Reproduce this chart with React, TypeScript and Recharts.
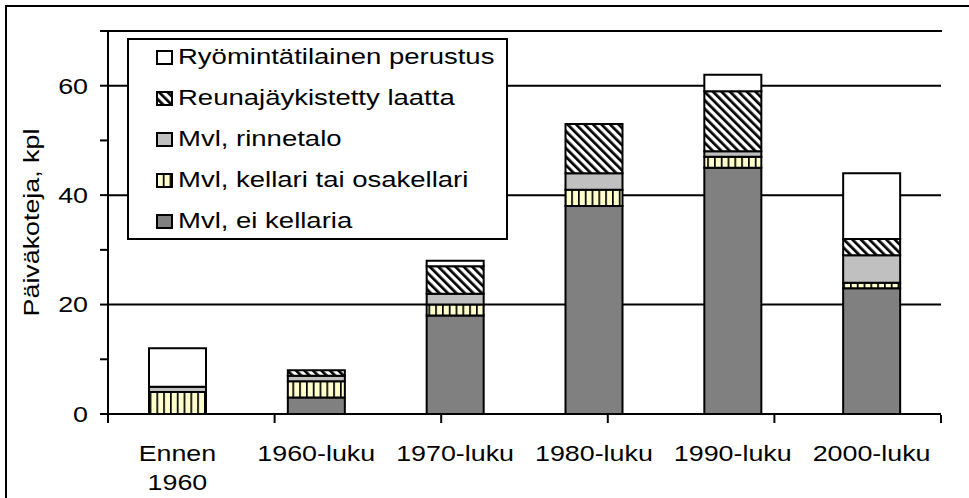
import React from 'react';
import { BarChart, Bar, XAxis, YAxis, CartesianGrid, Legend } from 'recharts';

// ---- data ----
const categories = ['Ennen\n1960', '1960-luku', '1970-luku', '1980-luku', '1990-luku', '2000-luku'];
const eiKellaria = [0, 3, 18, 38, 45, 23];
const kellari = [4, 3, 2, 3, 2, 1];
const rinnetalo = [1, 1, 2, 3, 1, 5];
const reunajaykistetty = [0, 1, 5, 9, 11, 3];
const ryomintatila = [7, 0, 1, 0, 3, 12];

const yTicks = [0, 10, 20, 30, 40, 50, 60, 70];
const yLabelTicks = [0, 20, 40, 60];
const yMax = 70;
const gridValues = [20, 40, 60];
const boundaryTicks = [0, 1, 2, 3, 4, 5, 6];
const yAxisTitle = 'Päiväkoteja, kpl';

const seriesDefs = [
  { key: 'ei', name: 'Mvl, ei kellaria', fill: '#808080' },
  { key: 'kellari', name: 'Mvl, kellari tai osakellari', fill: 'url(#pVert)' },
  { key: 'rinne', name: 'Mvl, rinnetalo', fill: '#C0C0C0' },
  { key: 'reuna', name: 'Reunajäykistetty laatta', fill: 'url(#pDiag)' },
  { key: 'ryom', name: 'Ryömintätilainen perustus', fill: '#FFFFFF' },
];

const data = categories.map((name, i) => ({
  name,
  ei: eiKellaria[i],
  kellari: kellari[i],
  rinne: rinnetalo[i],
  reuna: reunajaykistetty[i],
  ryom: ryomintatila[i],
}));

const FONT = "'Liberation Sans', Arial, sans-serif";
const FS = 22;
const SX = 1.22;

// layout of chart (positions only)
const CHART_W = 969;
const CHART_H = 498;
const Y_AXIS_W = 108;
const MARGIN = { top: 31, right: 28, bottom: 82, left: 0 };

const EmptyTick = () => <g />;

const XTick = (props: any) => {
  const { x, y, payload } = props;
  const lines = String(payload.value).split('\n');
  return (
    <g transform={`translate(${x},${y})`}>
      <text textAnchor="middle" fontFamily={FONT} fontSize={FS} fill="#000" transform={`scale(${SX},1)`}>
        {lines.map((l, i) => (
          <tspan key={i} x={0} y={47 + i * 29}>{l}</tspan>
        ))}
      </text>
    </g>
  );
};

const YTick = (props: any) => {
  const { x, y, payload } = props;
  if (!yLabelTicks.includes(payload.value)) return <g />;
  return (
    <g transform={`translate(${x},${y})`}>
      <text textAnchor="end" dy="0.36em" fontFamily={FONT} fontSize={FS} fill="#000" transform={`scale(${SX},1)`}>
        {payload.value}
      </text>
    </g>
  );
};

const YLabel = (props: any) => {
  const vb = props.viewBox || { x: 0, y: 31, width: 108, height: 383 };
  const cx = vb.x + 39;
  const cy = vb.y + vb.height / 2;
  return (
    <text
      transform={`translate(${cx},${cy}) rotate(-90) scale(${SX},1)`}
      textAnchor="middle"
      fontFamily={FONT}
      fontSize={FS}
      fill="#000"
    >
      {yAxisTitle}
    </text>
  );
};

const LegendContent = () => (
  <div
    style={{
      width: '100%',
      height: '100%',
      boxSizing: 'border-box',
      border: '2px solid #000',
      background: '#fff',
      display: 'flex',
      flexDirection: 'column',
      justifyContent: 'center',
      overflow: 'visible',
    }}
  >
    {[...seriesDefs].reverse().map((s) => (
      <div key={s.key} style={{ display: 'flex', alignItems: 'center', height: 41, flex: 'none' }}>
        <svg width={17} height={15} style={{ marginLeft: 27, flex: 'none' }}>
          <rect x={1} y={1} width={15} height={13} fill={s.fill} stroke="#000" strokeWidth={2} />
        </svg>
        <span
          style={{
            marginLeft: 5,
            fontSize: FS,
            fontFamily: FONT,
            display: 'inline-block',
            transform: `scaleX(${SX + 0.03})`,
            transformOrigin: 'left center',
            whiteSpace: 'nowrap',
            lineHeight: 1,
            color: '#000',
          }}
        >
          {s.name}
        </span>
      </div>
    ))}
  </div>
);

export default function App() {
  const plotLeft = MARGIN.left + Y_AXIS_W;
  const plotRight = CHART_W - MARGIN.right;
  return (
    <div style={{ position: 'absolute', left: 0, top: 0, width: CHART_W, height: CHART_H, background: '#fff', overflow: 'hidden' }}>
      <div
        style={{
          position: 'absolute',
          left: 5,
          top: 5,
          width: 1000,
          height: 600,
          borderTop: '2px solid #000',
          borderLeft: '2px solid #000',
        }}
      />
      <div style={{ position: 'absolute', left: 0, top: 0 }}>
        <BarChart width={CHART_W} height={CHART_H} data={data} margin={MARGIN}>
          <defs>
            <pattern id="pVert" patternUnits="userSpaceOnUse" width={6.8} height={10}>
              <rect x={0} y={0} width={6.8} height={10} fill="#FFFFCC" />
              <rect x={0} y={0} width={1.7} height={10} fill="#000" />
            </pattern>
            <pattern id="pDiag" patternUnits="userSpaceOnUse" width={6} height={6} patternTransform="rotate(-45)">
              <rect x={0} y={0} width={6} height={6} fill="#fff" />
              <rect x={0} y={0} width={2.7} height={6} fill="#000" />
            </pattern>
          </defs>
          <CartesianGrid
            horizontal
            vertical={false}
            horizontalValues={gridValues}
            stroke="#000"
            strokeWidth={2}
            strokeDasharray=""
          />
          <XAxis
            dataKey="name"
            interval={0}
            height={1}
            tickSize={0}
            tickMargin={0}
            tickLine={false}
            axisLine={{ stroke: '#000', strokeWidth: 2 }}
            tick={<XTick />}
          />
          <XAxis
            xAxisId="bnd"
            type="number"
            domain={[0, 6]}
            ticks={boundaryTicks}
            interval={0}
            allowDataOverflow
            tick={<EmptyTick />}
            tickSize={8}
            tickLine={{ stroke: '#000', strokeWidth: 2 }}
            axisLine={false}
            height={1}
            orientation="bottom"
          />
          <YAxis
            width={Y_AXIS_W}
            domain={[0, yMax]}
            ticks={yTicks}
            interval={0}
            tickSize={8}
            tickMargin={12}
            tickLine={{ stroke: '#000', strokeWidth: 2 }}
            axisLine={{ stroke: '#000', strokeWidth: 2 }}
            tick={<YTick />}
            label={{ content: <YLabel /> }}
          />
          <YAxis
            yAxisId="right"
            orientation="right"
            width={0}
            domain={[0, yMax]}
            tick={false}
            tickLine={false}
            axisLine={{ stroke: '#000', strokeWidth: 2 }}
          />
          <Legend
            layout="vertical"
            align="center"
            verticalAlign="middle"
            content={<LegendContent />}
            wrapperStyle={{ left: 127, top: 38, width: 381, height: 202 }}
          />
          {seriesDefs.map((s) => (
            <Bar
              key={s.key}
              dataKey={s.key}
              name={s.name}
              stackId="a"
              fill={s.fill}
              stroke="#000"
              strokeWidth={2}
              barSize={57}
              isAnimationActive={false}
            />
          ))}
        </BarChart>
      </div>
      {/* top border of the plot frame */}
      <div
        style={{
          position: 'absolute',
          left: plotLeft - 1,
          top: MARGIN.top - 1,
          width: plotRight - plotLeft + 2,
          height: 2,
          background: '#000',
        }}
      />
    </div>
  );
}
